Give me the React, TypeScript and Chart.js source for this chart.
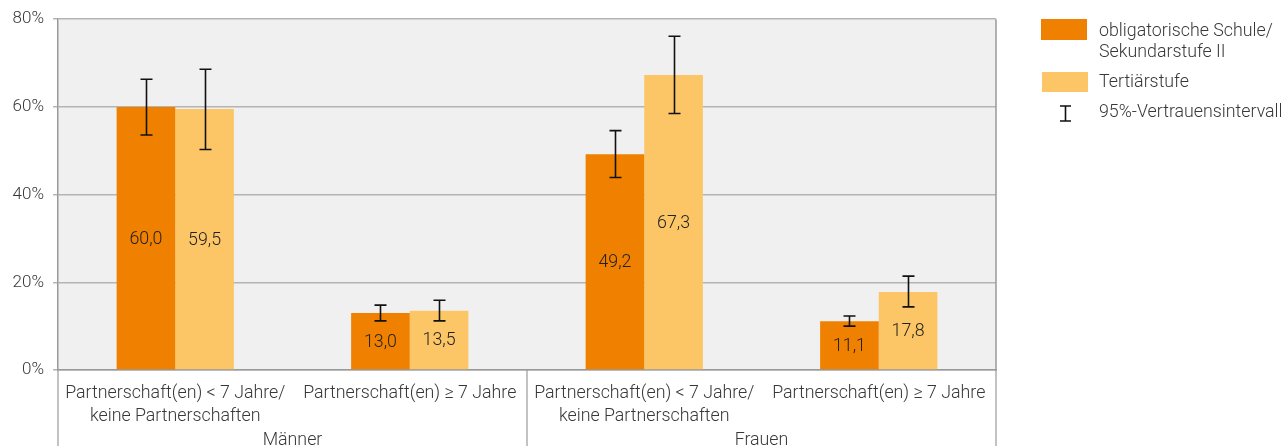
import React, { useEffect, useRef } from "react";
import { Chart, registerables } from "chart.js";

Chart.register(...registerables);

const categories: (string | string[])[] = [
  ["Partnerschaft(en) < 7 Jahre/", "keine Partnerschaften"],
  "Partnerschaft(en) ≥ 7 Jahre",
  ["Partnerschaft(en) < 7 Jahre/", "keine Partnerschaften"],
  "Partnerschaft(en) ≥ 7 Jahre",
];
const groups = ["Männer", "Frauen"];

const obligValues = [60.0, 13.0, 49.2, 11.1];
const obligLow = [53.6, 11.2, 43.9, 10.0];
const obligHigh = [66.3, 14.8, 54.6, 12.3];

const tertValues = [59.5, 13.5, 67.3, 17.8];
const tertLow = [50.3, 11.2, 58.5, 14.4];
const tertHigh = [68.6, 15.9, 76.1, 21.4];

const yTicks = [0, 20, 40, 60, 80];

const legendLabels = [
  ["obligatorische Schule/", "Sekundarstufe II"],
  ["Tertiärstufe"],
  ["95%-Vertrauensintervall"],
];

const ORANGE = "#f08000";
const YELLOW = "#fcc666";
const TEXT = "#383838";
const GRID = "#b4b4b4";
const FONT = "Roboto";
const FS = 17.8;

const lows = [obligLow, tertLow];
const highs = [obligHigh, tertHigh];

const fmt = (v: number) => v.toFixed(1).replace(".", ",");

const customPlugin = {
  id: "custom",
  beforeDraw(chart: any) {
    const { ctx, chartArea } = chart;
    ctx.save();
    ctx.fillStyle = "#f0f0f0";
    ctx.fillRect(chartArea.left, chartArea.top, chartArea.right - chartArea.left, chartArea.bottom - chartArea.top);
    ctx.restore();
  },
  afterDatasetsDraw(chart: any) {
    const { ctx } = chart;
    const yScale = chart.scales.y;
    ctx.save();
    chart.data.datasets.forEach((ds: any, di: number) => {
      const meta = chart.getDatasetMeta(di);
      meta.data.forEach((bar: any, i: number) => {
        const v = ds.data[i];
        const yMid = (bar.y + bar.base) / 2;
        ctx.fillStyle = "#222";
        ctx.font = `300 ${FS}px ${FONT}`;
        ctx.textAlign = "center";
        ctx.textBaseline = "middle";
        ctx.fillText(fmt(v), bar.x, yMid + 1);
      });
    });
    chart.data.datasets.forEach((ds: any, di: number) => {
      const meta = chart.getDatasetMeta(di);
      meta.data.forEach((bar: any, i: number) => {
        const yl = yScale.getPixelForValue(lows[di][i]);
        const yh = yScale.getPixelForValue(highs[di][i]);
        const x = Math.round(bar.x) + 0.5;
        ctx.strokeStyle = "#111";
        ctx.lineWidth = 1.6;
        ctx.beginPath();
        ctx.moveTo(x, yl);
        ctx.lineTo(x, yh);
        ctx.moveTo(x - 6, yh);
        ctx.lineTo(x + 6, yh);
        ctx.moveTo(x - 6, yl);
        ctx.lineTo(x + 6, yl);
        ctx.stroke();
      });
    });
    ctx.restore();
  },
  afterDraw(chart: any) {
    const { ctx, chartArea } = chart;
    const xScale = chart.scales.x;
    ctx.save();
    ctx.strokeStyle = "#9a9a9a";
    ctx.lineWidth = 1.5;
    ctx.beginPath();
    ctx.moveTo(chartArea.right, chartArea.top);
    ctx.lineTo(chartArea.right, chartArea.bottom);
    ctx.stroke();
    const bottom = chart.height;
    const mid = (xScale.getPixelForValue(1) + xScale.getPixelForValue(2)) / 2;
    ctx.lineWidth = 1.2;
    [chartArea.left, mid, chartArea.right].forEach((x: number) => {
      ctx.beginPath();
      ctx.moveTo(x, chartArea.bottom);
      ctx.lineTo(x, bottom);
      ctx.stroke();
    });
    ctx.fillStyle = TEXT;
    ctx.font = `300 ${FS}px ${FONT}`;
    ctx.textAlign = "center";
    ctx.textBaseline = "middle";
    const g1 = (xScale.getPixelForValue(0) + xScale.getPixelForValue(1)) / 2;
    const g2 = (xScale.getPixelForValue(2) + xScale.getPixelForValue(3)) / 2;
    ctx.fillText(groups[0], g1, 441);
    ctx.fillText(groups[1], g2, 441);
    ctx.textAlign = "left";
    ctx.fillStyle = ORANGE;
    ctx.fillRect(1041, 19, 46, 21);
    ctx.fillStyle = YELLOW;
    ctx.fillRect(1042, 72, 46, 20);
    ctx.fillStyle = TEXT;
    ctx.fillText(legendLabels[0][0], 1099, 32);
    ctx.fillText(legendLabels[0][1], 1099, 53);
    ctx.fillText(legendLabels[1][0], 1099, 83);
    ctx.fillText(legendLabels[2][0], 1099, 113);
    ctx.strokeStyle = "#111";
    ctx.lineWidth = 1.6;
    ctx.beginPath();
    ctx.moveTo(1065.5, 106);
    ctx.lineTo(1065.5, 121);
    ctx.moveTo(1060, 106);
    ctx.lineTo(1071, 106);
    ctx.moveTo(1060, 121);
    ctx.lineTo(1071, 121);
    ctx.stroke();
    ctx.restore();
  },
};

export default function App() {
  const ref = useRef<HTMLCanvasElement | null>(null);
  useEffect(() => {
    document.body.style.margin = "0";
    if (!ref.current) return;
    const chart = new Chart(ref.current, {
      type: "bar",
      data: {
        labels: categories,
        datasets: [
          { label: "obligatorische Schule/Sekundarstufe II", data: obligValues, backgroundColor: ORANGE, categoryPercentage: 0.5, barPercentage: 1.0 },
          { label: "Tertiärstufe", data: tertValues, backgroundColor: YELLOW, categoryPercentage: 0.5, barPercentage: 1.0 },
        ],
      },
      options: {
        animation: false,
        responsive: true,
        maintainAspectRatio: false,
        layout: { padding: { top: 19, right: 290, left: 0, bottom: 0 } },
        plugins: { legend: { display: false }, tooltip: { enabled: false } },
        scales: {
          x: {
            grid: { display: false },
            border: { display: true, color: "#9a9a9a", width: 1.5 },
            ticks: {
              color: TEXT,
              font: { family: FONT, size: FS, weight: "300", lineHeight: 1.3 },
              padding: 4,
              maxRotation: 0,
              autoSkip: false,
            },
            afterFit: (s: any) => { s.height = 76; },
          },
          y: {
            min: 0,
            max: 80,
            afterBuildTicks: (s: any) => { s.ticks = yTicks.map((v) => ({ value: v })); },
            grid: { color: GRID, lineWidth: 1.5, tickLength: 5 },
            border: { display: true, color: "#9a9a9a", width: 1.5 },
            ticks: {
              color: TEXT,
              font: { family: FONT, size: 17, weight: "300" },
              padding: 9,
              callback: (v: any) => `${v}%`,
            },
            afterFit: (s: any) => { s.width = 58; },
          },
        },
      },
      plugins: [customPlugin],
    });
    return () => chart.destroy();
  }, []);
  return (
    <div style={{ position: "absolute", left: 0, top: 0, width: 1286, height: 446 }}>
      <canvas ref={ref} />
    </div>
  );
}
